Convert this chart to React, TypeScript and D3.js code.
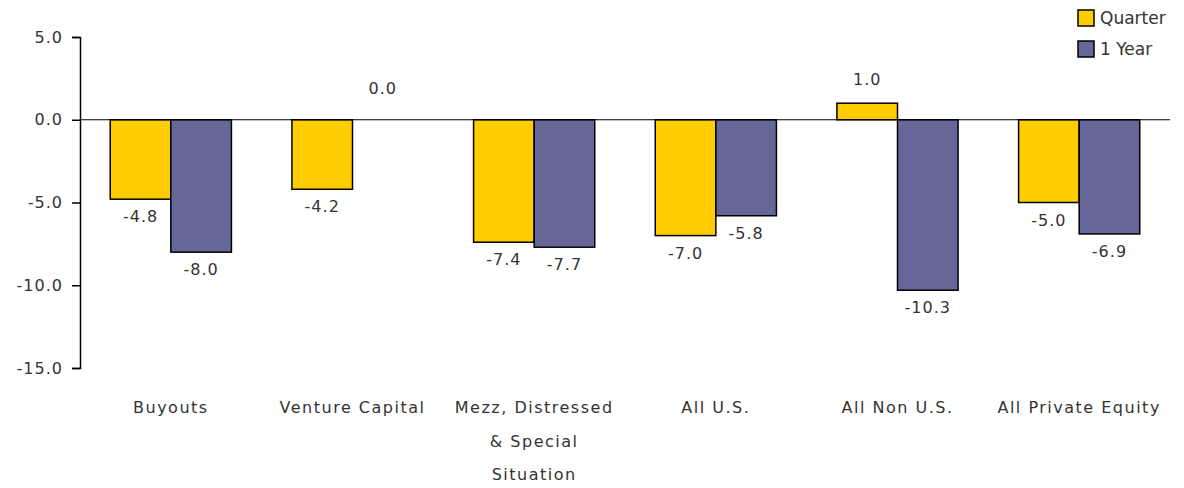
import { useRef, useEffect } from 'react';
import * as d3 from 'd3';

const categories = ['Buyouts', 'Venture Capital', 'Mezz, Distressed\n& Special\nSituation', 'All U.S.', 'All Non U.S.', 'All Private Equity'];
const seriesNames = ['Quarter', '1 Year'];
const quarter = [-4.8, -4.2, -7.4, -7.0, 1.0, -5.0];
const oneYear = [-8.0, 0.0, -7.7, -5.8, -10.3, -6.9];
const yTicks = [5, 0, -5, -10, -15];
const colors = ['#FFCC00', '#666699'];

// hyphen instead of unicode minus, like the original
const fmt = (v: number) => d3.format('.1f')(v).replace('\u2212', '-');

export default function App() {
  const ref = useRef<SVGSVGElement>(null);
  const width = 1184;
  const height = 488;

  useEffect(() => {
    const svg = d3.select(ref.current);
    svg.selectAll('*').remove();

    const left = 80, right = 1170;
    const font = 'DejaVu Sans, sans-serif';
    const textColor = '#333';
    const ls = 1.5;

    const y = d3.scaleLinear().domain([5, -15]).range([37, 368]);
    const x0 = d3.scaleBand().domain(categories).range([left, right]).paddingInner(0.333).paddingOuter(0.1665);
    const x1 = d3.scaleBand().domain(seriesNames).range([0, x0.bandwidth()]);

    // Y axis
    const yAxis = d3.axisLeft(y).tickValues(yTicks).tickSize(8).tickFormat(d => fmt(d as number));
    const gy = svg.append('g').attr('transform', `translate(${left},0)`).call(yAxis);
    gy.select('.domain').attr('stroke', '#000').attr('stroke-width', 1.5);
    gy.selectAll('.tick line').attr('stroke', '#000').attr('stroke-width', 1.5);
    gy.selectAll('.tick text')
      .attr('font-family', font).attr('font-size', 16).attr('fill', textColor)
      .attr('letter-spacing', 1).attr('x', -17);

    const data = [quarter, oneYear];
    data.forEach((vals, si) => {
      const name = seriesNames[si];
      const g = svg.append('g');
      vals.forEach((v, i) => {
        const bx = (x0(categories[i]) ?? 0) + (x1(name) ?? 0);
        const bw = x1.bandwidth();
        if (v !== 0) {
          g.append('rect')
            .attr('x', bx).attr('width', bw)
            .attr('y', Math.min(y(0), y(v)))
            .attr('height', Math.abs(y(v) - y(0)))
            .attr('fill', colors[si])
            .attr('stroke', '#000').attr('stroke-width', 1.5);
        }
        const ly = v > 0 ? y(v) - 18 : v === 0 ? y(0) - 26 : y(v) + 23;
        g.append('text')
          .attr('x', bx + bw / 2).attr('y', ly)
          .attr('text-anchor', 'middle')
          .attr('font-family', font).attr('font-size', 16).attr('fill', textColor)
          .attr('letter-spacing', 1)
          .text(fmt(v));
      });
    });

    // zero line
    svg.append('line')
      .attr('x1', left).attr('x2', right)
      .attr('y1', y(0)).attr('y2', y(0))
      .attr('stroke', '#000').attr('stroke-width', 1.2);

    // category labels
    categories.forEach(c => {
      const cx = (x0(c) ?? 0) + x0.bandwidth() / 2;
      const t = svg.append('text')
        .attr('x', cx).attr('y', 413)
        .attr('text-anchor', 'middle')
        .attr('font-family', font).attr('font-size', 16).attr('fill', textColor)
        .attr('letter-spacing', ls);
      c.split('\n').forEach((line, li) => {
        t.append('tspan').attr('x', cx).attr('y', 413 + li * 33.5).text(line);
      });
    });

    // legend
    const lg = svg.append('g');
    seriesNames.forEach((s, i) => {
      lg.append('rect')
        .attr('x', 1078).attr('y', 10 + i * 31).attr('width', 16).attr('height', 16)
        .attr('fill', colors[i]).attr('stroke', '#000').attr('stroke-width', 1.5);
      lg.append('text')
        .attr('x', 1100).attr('y', 24 + i * 31)
        .attr('font-family', font).attr('font-size', 17).attr('fill', textColor)
        .text(s);
    });
  }, []);

  return (
    <svg ref={ref} width={width} height={height} style={{ position: 'absolute', left: 0, top: 0 }} />
  );
}
